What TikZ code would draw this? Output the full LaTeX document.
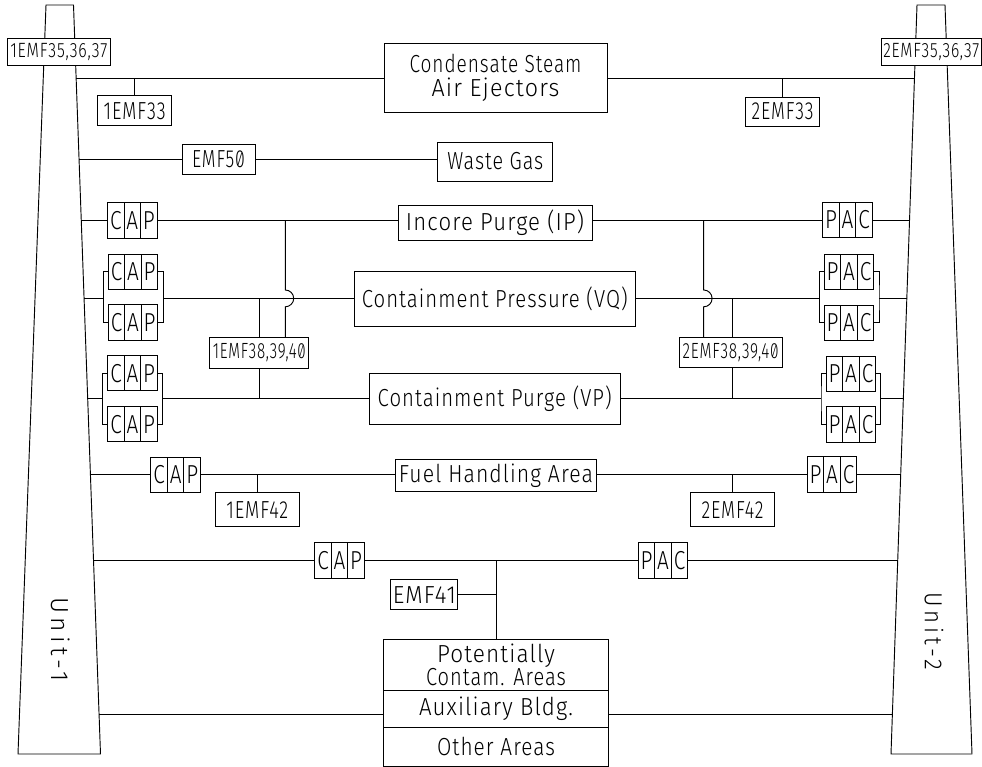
\documentclass[tikz,border=0pt]{standalone}
\usepackage{graphicx}
\usepackage{fontspec}
\setmainfont{Fira Sans Light}[Numbers=SlashedZero,LetterSpace=5]
\newfontfamily\cellfont{Fira Sans Light}[FakeStretch=0.8]
\usetikzlibrary{positioning}
\newlength{\pxunit}
\setlength{\pxunit}{0.75pt}
\newcommand{\fitw}[2]{\resizebox{#1\pxunit}{\height}{#2}}
\tikzset{sized/.style 2 args={minimum width=#1*0.75pt,minimum height=#2*0.75pt}}

\begin{document}
\begin{tikzpicture}[x=0.75pt,y=-0.75pt]
\tikzstyle{line}=[line width=0.7pt,line join=miter]
\tikzstyle{box}=[draw,line,outer sep=0pt,inner sep=0pt,fill=white,align=center,font=\fontsize{18.5}{16.5}\selectfont]
\tikzstyle{cell}=[box,sized={16.5}{35.5},font=\fontsize{19.5}{16.5}\cellfont]
\tikzstyle{wide}=[box,font=\fontsize{15.5}{16.5}\selectfont]
\tikzstyle{mid}=[box,font=\fontsize{16.5}{16.5}\selectfont]

\useasboundingbox (0,0) rectangle (982,767);

% stacks
\coordinate (s1tl) at (46,5);
\coordinate (s1tr) at (73.5,5);
\coordinate (s1br) at (100.5,754);
\coordinate (s1bl) at (18,754);
\coordinate (s2tl) at (917,5);
\coordinate (s2tr) at (945,5);
\coordinate (s2br) at (972,754);
\coordinate (s2bl) at (891,754);
\draw [line] (s1tl) -- (s1tr) -- (s1br) -- (s1bl) -- cycle;
\draw [line] (s2tl) -- (s2tr) -- (s2br) -- (s2bl) -- cycle;

\node (em135) [wide,sized={103}{27.5}] at (58.8,52.2) {\fitw{97}{1EMF35,36,37}};
\node (em235) [wide,sized={100.6}{27.5}] at (931.3,52) {\fitw{96}{2EMF35,36,37}};
\node (unit1) [rotate=-90,font=\fontsize{18.5}{16.5}\selectfont] at (60.5,639.5) {\fitw{85}{\addfontfeature{LetterSpace=18}Unit-1}};
\node (unit2) [rotate=-90,font=\fontsize{18.5}{16.5}\selectfont] at (934,631) {\fitw{78}{\addfontfeature{LetterSpace=18}Unit-2}};

% process boxes
\node (cond) [box,sized={223}{69.5}] at (495.5,78) {\fitw{172}{Condensate Steam}\\[1pt]\fitw{128}{Air Ejectors}};
\node (waste) [box,sized={114.7}{39}] at (495.3,161.5) {\fitw{96}{Waste Gas}};
\node (incore) [box,sized={194}{35}] at (495,223.2) {\fitw{178}{Incore Purge (IP)}};
\node (vq) [box,sized={281}{55.3}] at (494.8,299.3) {\fitw{266}{Containment Pressure (VQ)}};
\node (vp) [box,sized={250.7}{50.7}] at (494.7,398.7) {\fitw{234}{Containment Purge (VP)}};
\node (fuel) [box,sized={200.6}{32.4}] at (496,475.5) {\fitw{194}{Fuel Handling Area}};
\node (pot1) [box,sized={225.4}{51.4}] at (496,665) {\fitw{118}{Potentially}\\[0pt]\fitw{140}{Contam. Areas}};
\node (pot2) [box,sized={225.4}{36.3},below=0pt of pot1] {\fitw{154}{Auxiliary Bldg.}};
\node (pot3) [box,sized={225.4}{39.7},below=0pt of pot2] {\fitw{118}{Other Areas}};

% monitors
\node (em133) [box,sized={74.5}{29.5}] at (134.7,110.7) {\fitw{62}{1EMF33}};
\node (em233) [box,sized={74.7}{29}] at (782.6,111.5) {\fitw{62}{2EMF33}};
\node (em50) [box,sized={73}{30}] at (218.5,159) {\fitw{53}{EMF50}};
\node (em138) [mid,sized={98.7}{31}] at (259.3,352.5) {\fitw{93}{1EMF38,39,40}};
\node (em238) [mid,sized={102.7}{30.3}] at (730.7,352.2) {\fitw{96}{2EMF38,39,40}};
\node (em142) [box,sized={84}{34}] at (257.3,509.7) {\fitw{62}{1EMF42}};
\node (em242) [box,sized={83.6}{34}] at (732.5,509.7) {\fitw{62}{2EMF42}};
\node (em41) [box,sized={66.7}{29.3}] at (424.3,594.6) {\fitw{63}{EMF41}};

% unit 1 filter trains
\node (c1) [cell] at (115.8,220.7) {C}; \node (a1) [cell,right=0pt of c1] {A}; \node (p1) [cell,right=0pt of a1] {P};
\node (c2) [cell] at (116.6,271.8) {C}; \node (a2) [cell,right=0pt of c2] {A}; \node (p2) [cell,right=0pt of a2] {P};
\node (c3) [cell] at (116.6,322.7) {C}; \node (a3) [cell,right=0pt of c3] {A}; \node (p3) [cell,right=0pt of a3] {P};
\node (c4) [cell] at (116,373.2) {C}; \node (a4) [cell,right=0pt of c4] {A}; \node (p4) [cell,right=0pt of a4] {P};
\node (c5) [cell] at (116,424.2) {C}; \node (a5) [cell,right=0pt of c5] {A}; \node (p5) [cell,right=0pt of a5] {P};
\node (c6) [cell] at (159.2,474.8) {C}; \node (a6) [cell,right=0pt of c6] {A}; \node (p6) [cell,right=0pt of a6] {P};
\node (c7) [cell] at (323,560.5) {C}; \node (a7) [cell,right=0pt of c7] {A}; \node (p7) [cell,right=0pt of a7] {P};

% unit 2 filter trains
\node (q1) [cell] at (831,220) {P}; \node (b1) [cell,right=0pt of q1] {A}; \node (r1) [cell,right=0pt of b1] {C};
\node (q2) [cell] at (832.6,271.8) {P}; \node (b2) [cell,right=0pt of q2] {A}; \node (r2) [cell,right=0pt of b2] {C};
\node (q3) [cell] at (832.6,322.8) {P}; \node (b3) [cell,right=0pt of q3] {A}; \node (r3) [cell,right=0pt of b3] {C};
\node (q4) [cell] at (834.6,373.8) {P}; \node (b4) [cell,right=0pt of q4] {A}; \node (r4) [cell,right=0pt of b4] {C};
\node (q5) [cell] at (834.6,424.7) {P}; \node (b5) [cell,right=0pt of q5] {A}; \node (r5) [cell,right=0pt of b5] {C};
\node (q6) [cell] at (815.6,474.4) {P}; \node (b6) [cell,right=0pt of q6] {A}; \node (r6) [cell,right=0pt of b6] {C};
\node (q7) [cell] at (646.6,560.5) {P}; \node (b7) [cell,right=0pt of q7] {A}; \node (r7) [cell,right=0pt of b7] {C};

% stack ends and header points
\coordinate (ua1) at (76.1,78);
\coordinate (ub1) at (79,159);
\coordinate (uc1) at (81.3,220.7);
\coordinate (ud1) at (84.1,298.3);
\coordinate (ue1) at (87.7,398.3);
\coordinate (uf1) at (90.4,474.8);
\coordinate (ug1) at (93.5,560.5);
\coordinate (uh1) at (99.1,714);
\coordinate (ua2) at (914.5,78);
\coordinate (uc2) at (909.5,220);
\coordinate (ud2) at (906.8,298.3);
\coordinate (ue2) at (903.3,398.7);
\coordinate (uf2) at (900.7,474.4);
\coordinate (ug2) at (897.7,560.5);
\coordinate (uh2) at (892.4,714);
\coordinate (hd1l) at (103.3,298.3);
\coordinate (hd1r) at (163.3,298.3);
\coordinate (he1l) at (102.7,398.3);
\coordinate (he1r) at (162.3,398.3);
\coordinate (hd2l) at (819.7,298.3);
\coordinate (hd2r) at (879,298.3);
\coordinate (he2l) at (821,398.7);
\coordinate (he2r) at (880.7,398.7);
\coordinate (jmp1) at (285.3,290);
\coordinate (jmp2) at (703.7,290);
\coordinate (tap2) at (732.7,298.3);

\draw [line] (ua1) -- (cond.west);
\draw [line] (cond.east) -- (ua2);
\draw [line] (em133.north) -- (em133.north |- ua1);
\draw [line] (em233.north) -- (em233.north |- ua1);
\draw [line] (ub1) -- (em50.west);
\draw [line] (em50.east) -- (em50.east -| waste.west);

\draw [line] (uc1) -- (c1.west);
\draw [line] (p1.east) -- (p1.east -| incore.west);
\draw [line] (incore.east |- q1.west) -- (q1.west);
\draw [line] (r1.east) -- (uc2);

\draw [line] (ud1) -- (hd1l);
\draw [line] (c2.west) -| (hd1l) |- (c3.west);
\draw [line] (p2.east) -| (hd1r) |- (p3.east);
\draw [line] (hd1r) -- (hd1r -| vq.west);
\draw [line] (vq.east |- hd2l) -- (hd2l);
\draw [line] (q2.west) -| (hd2l) |- (q3.west);
\draw [line] (r2.east) -| (hd2r) |- (r3.east);
\draw [line] (hd2r) -- (ud2);

\draw [line] (ue1) -- (he1l);
\draw [line] (c4.west) -| (he1l) |- (c5.west);
\draw [line] (p4.east) -| (he1r) |- (p5.east);
\draw [line] (he1r) -- (he1r -| vp.west);
\draw [line] (vp.east |- he2l) -- (he2l);
\draw [line] (q4.west) -| (he2l) |- (q5.west);
\draw [line] (r4.east) -| (he2r) |- (r5.east);
\draw [line] (he2r) -- (ue2);

\draw [line] (em138.north) -- (em138.north |- hd1r);
\draw [line] (em138.south) -- (em138.south |- he1r);
\draw [line] (tap2) -- (tap2 |- em238.north);
\draw [line] (tap2 |- em238.south) -- (tap2 |- he2l);
\draw [line] (jmp1 |- p1.east) -- (jmp1) arc[start angle=-90,end angle=90,radius=8.4] -- (jmp1 |- em138.north);
\draw [line] (jmp2 |- q1.west) -- (jmp2) arc[start angle=-90,end angle=90,radius=8.4] -- (jmp2 |- em238.north);

\draw [line] (uf1) -- (c6.west);
\draw [line] (p6.east) -- (p6.east -| fuel.west);
\draw [line] (fuel.east |- q6.west) -- (q6.west);
\draw [line] (r6.east) -- (uf2);
\draw [line] (em142.north) -- (em142.north |- p6.east);
\draw [line] (em242.north) -- (em242.north |- q6.west);

\draw [line] (ug1) -- (c7.west);
\draw [line] (p7.east) -- (q7.west);
\draw [line] (r7.east) -- (ug2);
\draw [line] (pot1.north) -- (pot1.north |- p7.east);
\draw [line] (em41.east) -- (em41.east -| pot1.north);

\draw [line] (uh1) -- (uh1 -| pot2.west);
\draw [line] (uh2 -| pot2.east) -- (uh2);

\end{tikzpicture}
\end{document}
